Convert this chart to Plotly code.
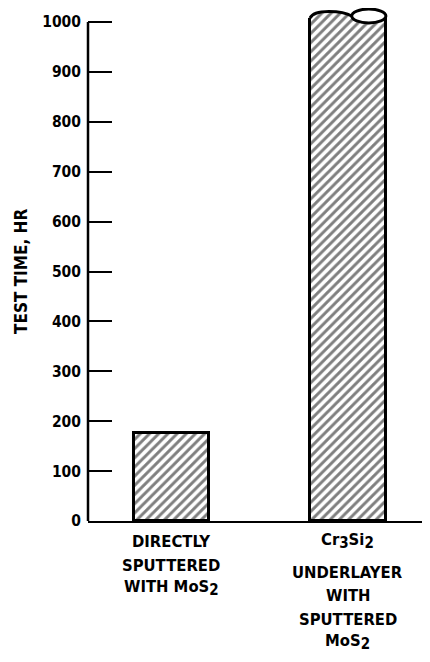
import plotly.graph_objects as go

# ---- data ----
SUB = '<sub><span style="font-size:15px">{}</span></sub>'
category_lines = [
    ["DIRECTLY", "SPUTTERED", "WITH MoS" + SUB.format("2")],
    ["Cr" + SUB.format("3") + "Si" + SUB.format("2"), "UNDERLAYER", "WITH", "SPUTTERED",
     "MoS" + SUB.format("2")],
]
test_time_hr = [176, 1026]          # second bar is broken (test exceeded 1000 hr)
y_tick_values = [0, 100, 200, 300, 400, 500, 600, 700, 800, 900, 1000]
y_tick_labels = [str(v) for v in y_tick_values]
y_title = "TEST TIME, HR"

FONT = "DejaVu Sans Condensed, Liberation Sans Narrow, sans-serif"
x_pos = list(range(len(category_lines)))
bar_w = 0.43

# page geometry (the page body has an 8px margin)
OFF = 8
FIG_W, FIG_H = 430 - OFF, 662 - OFF
AXIS_PAGE_Y = 521
PLOT_H = AXIS_PAGE_Y - OFF          # plot area height in px
PX_PER_UNIT = 0.499
line_px = [[541, 565, 588], [541, 572, 595, 619, 642]]   # page y of label lines

fig = go.Figure()
fig.add_trace(go.Bar(
    x=x_pos, y=test_time_hr, width=bar_w,
    marker=dict(color="white",
                line=dict(color="black", width=3),
                pattern=dict(shape="/", size=6.5, solidity=0.45,
                             fgcolor="black", bgcolor="white")),
    showlegend=False, hoverinfo="skip",
))

# ---- broken-top symbol on the second bar (derived from its data) ----
v = test_time_hr[1]
L = x_pos[1] - bar_w / 2
R = x_pos[1] + bar_w / 2
w = bar_w
eps = 0.015
xe0 = L + 0.55 * w
xe1 = R
xm = (xe0 + xe1) / 2
a = (xe1 - xe0) / 2
b = 14
yc = v - 14
k = 0.5523

hump = (f"M {L},{v-18} Q {L+0.04*w},{v-5} {L+0.25*w},{v-5} "
        f"Q {L+0.45*w},{v-5} {xe0},{yc}")
lower_arc = (f"C {xe0},{yc-k*b} {xm-k*a},{yc-b} {xm},{yc-b} "
             f"C {xm+k*a},{yc-b} {xe1},{yc-k*b} {xe1},{yc}")
upper_arc = (f"C {xe1},{yc+k*b} {xm+k*a},{yc+b} {xm},{yc+b} "
             f"C {xm-k*a},{yc+b} {xe0},{yc+k*b} {xe0},{yc}")
cover = (f"M {L-eps},{v+8} L {L-eps},{v-18} L {L},{v-18} "
         + hump[hump.index('Q'):] + " " + lower_arc +
         f" L {R+eps},{yc} L {R+eps},{v+8} Z")

shapes = [
    dict(type="path", path=cover, xref="x", yref="y",
         fillcolor="white", line=dict(width=0), layer="above"),
    dict(type="path", path=hump, xref="x", yref="y",
         line=dict(color="black", width=3), layer="above"),
    dict(type="path", path=f"M {xe0},{yc} " + lower_arc + " " + upper_arc + " Z",
         xref="x", yref="y", line=dict(color="black", width=3), layer="above"),
    # y axis line, up to the top tick
    dict(type="line", xref="paper", yref="y", x0=0, x1=0,
         y0=y_tick_values[0], y1=y_tick_values[-1],
         line=dict(color="black", width=2.5), layer="above"),
]

annotations = [dict(
    text=f"<b>{y_title}</b>", textangle=-90,
    xref="paper", yref="paper", x=-0.196, y=(AXIS_PAGE_Y - 271) / PLOT_H,
    xanchor="center", yanchor="middle", showarrow=False,
    font=dict(family=FONT, size=17, color="black"),
)]
for xi, lines, pys in zip(x_pos, category_lines, line_px):
    for txt, py in zip(lines, pys):
        annotations.append(dict(
            text=f"<b>{txt}</b>", xref="x", yref="paper",
            x=xi, y=(AXIS_PAGE_Y - py) / PLOT_H,
            xanchor="center", yanchor="middle", showarrow=False,
            font=dict(family=FONT, size=16.5, color="black"),
        ))

fig.update_layout(
    width=FIG_W, height=FIG_H,
    margin=dict(l=88 - OFF, r=0, t=0, b=FIG_H - PLOT_H),
    paper_bgcolor="white", plot_bgcolor="white",
    font=dict(family=FONT, color="black", size=16),
    bargap=0,
    shapes=shapes,
    annotations=annotations,
    xaxis=dict(
        range=[-0.473, 1.465], tickmode="array", tickvals=x_pos,
        showticklabels=False, automargin=False,
        showline=True, linecolor="black", linewidth=2,
        showgrid=False, zeroline=False, ticks="",
        fixedrange=True,
    ),
    yaxis=dict(
        range=[0, PLOT_H / PX_PER_UNIT], tickmode="array", tickvals=y_tick_values,
        ticktext=[f"<b>{t}</b>" for t in y_tick_labels],
        ticks="inside", ticklen=24, tickwidth=2, tickcolor="black",
        showline=False, showgrid=False, zeroline=False,
        ticklabelstandoff=6, automargin=False,
        tickfont=dict(family=FONT, size=15.5, color="black"),
        fixedrange=True,
    ),
)

fig.write_html("out.html")
